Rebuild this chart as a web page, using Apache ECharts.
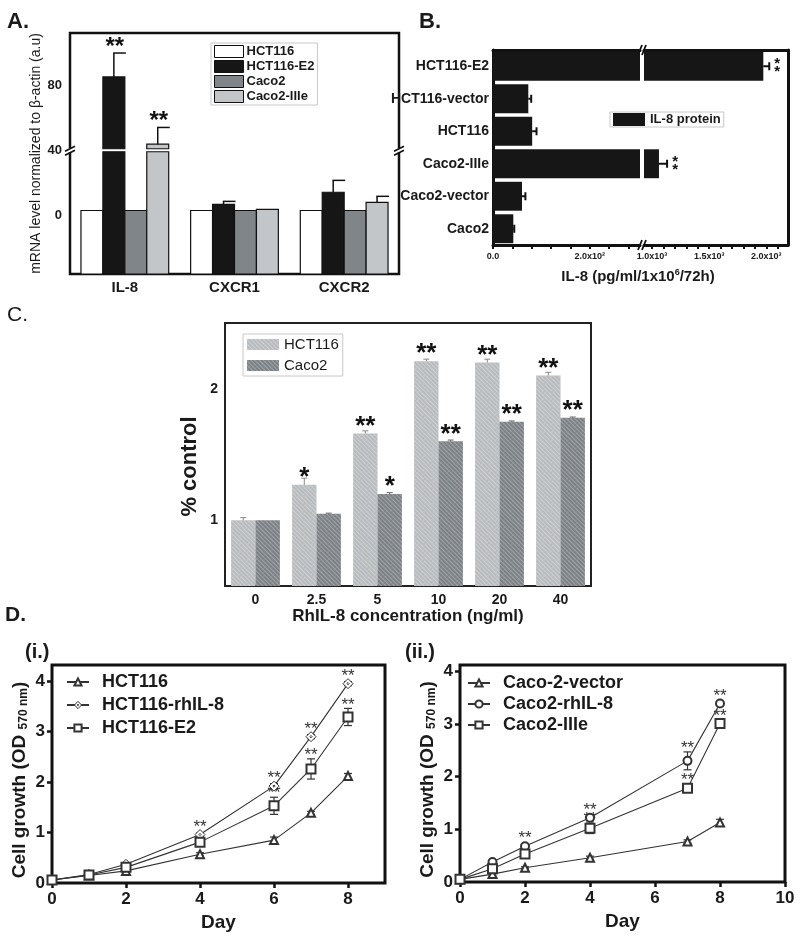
<!DOCTYPE html>
<html><head><meta charset="utf-8">
<script src="https://cdn.jsdelivr.net/npm/echarts@6/dist/echarts.min.js"></script>
<style>html,body{margin:0;padding:0;background:#fff}#c{width:800px;height:936px}</style>
</head><body><div id="c"></div>
<script>
// ---------------- Panel A data ----------------
const aCategories = ['IL-8', 'CXCR1', 'CXCR2'];
const aNames = ['HCT116', 'HCT116-E2', 'Caco2', 'Caco2-IIIe'];
const aHCT116 = [3, 3, 3];
const aHCT116E2 = [85, 6.8, 14.2];
const aCaco2 = [3, 3, 3];
const aCaco2IIIe = [43.7, 3.7, 8];
const aErrHCT116 = [0, 0, 0];
const aErrHCT116E2 = [14.7, 1.8, 7.3];
const aErrCaco2 = [0, 0, 0];
const aErrCaco2IIIe = [10.3, 0, 3.7];
const aStarsHCT116 = ['', '', ''];
const aStarsHCT116E2 = ['**', '', ''];
const aStarsCaco2 = ['', '', ''];
const aStarsCaco2IIIe = ['**', '', ''];
const aLabelValues = [0, 40, 80];
const aTickValues = [0, 40, 60, 80, 100];
const aBreakValue = 40;

// ---------------- Panel B data ----------------
const bCategories = ['Caco2', 'Caco2-vector', 'Caco2-IIIe', 'HCT116', 'HCT116-vector', 'HCT116-E2'];
const bValues = [42, 60, 1061, 81, 73, 1974];
const bErrors = [2, 7, 71, 9, 6, 52];
const bStars = ['', '', '**', '', '', '**'];
const bTickValuesLow = [0, 40, 80, 120, 160, 200, 240, 280];
const bLabelValuesLow = [0, 200];
const bLabelTextLow = ['0.0', '2.0x10²'];
const bTickValuesHigh = [1000, 1100, 1200, 1300, 1400, 1500, 1600, 1700, 1800, 1900, 2000, 2100];
const bLabelValuesHigh = [1000, 1500, 2000];
const bLabelTextHigh = ['1.0x10³', '1.5x10³', '2.0x10³'];

// ---------------- Panel C data ----------------
const cCategories = ['0', '2.5', '5', '10', '20', '40'];
const cHCT116 = [1.00, 1.27, 1.66, 2.21, 2.20, 2.10];
const cCaco2 = [1.00, 1.05, 1.20, 1.60, 1.75, 1.78];
const cErrHCT116 = [0.02, 0.05, 0.02, 0.015, 0.025, 0.025];
const cErrCaco2 = [0, 0.004, 0.01, 0.01, 0.005, 0.005];
const cStarsHCT116 = ['', '*', '**', '**', '**', '**'];
const cStarsCaco2 = ['', '', '*', '**', '**', '**'];
const cLabelValues = [1, 2];
const cTickValues = [0.5, 1, 1.5, 2, 2.5];

// ---------------- Panel D(i) data ----------------
const d1Days = [0, 1, 2, 4, 6, 7, 8];
const d1HCT116 = [0.06, 0.15, 0.24, 0.57, 0.85, 1.39, 2.12];
const d1HCT116rh = [0.06, 0.17, 0.37, 0.96, 1.92, 2.90, 3.95];
const d1HCT116E2 = [0.06, 0.16, 0.31, 0.81, 1.53, 2.26, 3.29];
const d1ErrHCT116 = [0, 0.02, 0.02, 0.03, 0.06, 0.03, 0.05];
const d1ErrHCT116rh = [0, 0.02, 0.03, 0.03, 0.05, 0.04, 0.04];
const d1ErrHCT116E2 = [0, 0.02, 0.03, 0.03, 0.17, 0.2, 0.17];
const d1StarsHCT116 = ['', '', '', '', '', '', ''];
const d1StarsHCT116rh = ['', '', '', '**', '**', '**', '**'];
const d1StarsHCT116E2 = ['', '', '', '', '**', '**', '**'];
const d1XTicks = [0, 2, 4, 6, 8];
const yTicksD = [0, 1, 2, 3, 4];

// ---------------- Panel D(ii) data ----------------
const d2Days = [0, 1, 2, 4, 7, 8];
const d2Vector = [0.05, 0.15, 0.27, 0.46, 0.77, 1.13];
const d2rh = [0.05, 0.38, 0.68, 1.22, 2.30, 3.39];
const d2IIIe = [0.05, 0.25, 0.53, 1.02, 1.78, 3.01];
const d2ErrVector = [0, 0.02, 0.02, 0.03, 0.03, 0.06];
const d2Errrh = [0, 0.03, 0.03, 0.06, 0.17, 0.04];
const d2ErrIIIe = [0, 0.03, 0.03, 0.1, 0.05, 0.04];
const d2StarsVector = ['', '', '', '', '', ''];
const d2Starsrh = ['', '', '**', '**', '**', '**'];
const d2StarsIIIe = ['', '', '', '**', '**', '**'];
const d2XTicks = [0, 2, 4, 6, 8, 10];

// ---------------- helpers ----------------
const FONT = '"Liberation Sans", Arial, Helvetica, sans-serif';
const NARROW = '"Liberation Sans Narrow", "Arial Narrow", "Liberation Sans", sans-serif';
const INK = '#1a1a1a';
const G = {
  A: {left: 70, top: 33, width: 329, height: 241},
  B1: {left: 493, top: 50, width: 147, height: 195},
  B2: {left: 644, top: 50, width: 144, height: 195},
  C: {left: 225, top: 323, width: 366, height: 263},
  D1: {left: 52, top: 665, width: 333, height: 218},
  D2: {left: 460, top: 665, width: 325, height: 217}
};
const disp = n => n.split('|')[1];

function aBar(k, values, errs, stars, fill) {
  return {
    type: 'custom', name: 'A|' + aNames[k], xAxisIndex: 0, yAxisIndex: 0,
    itemStyle: {color: fill, borderColor: '#111', borderWidth: 1},
    data: values.map((v, i) => [i, v]),
    encode: {x: 0, y: 1},
    renderItem: function (params, api) {
      const i = api.value(0), v = api.value(1);
      const cs = params.coordSys;
      const catW = api.size([1, 0])[0];
      const groupW = catW * 0.8, bw = groupW / 4;
      const c = api.coord([i, v]);
      const x0 = c[0] - groupW / 2 + k * bw;
      const yBot = cs.y + cs.height;
      const yBreak = api.coord([i, aBreakValue])[1];
      const st = {fill: fill, stroke: '#111', lineWidth: 1.2};
      const ch = [];
      if (v > aBreakValue) {
        ch.push({type: 'rect', shape: {x: x0, y: yBreak + 1.5, width: bw, height: yBot - yBreak - 1.5}, style: st});
        ch.push({type: 'rect', shape: {x: x0, y: c[1], width: bw, height: yBreak - 1.5 - c[1]}, style: st});
      } else {
        ch.push({type: 'rect', shape: {x: x0, y: c[1], width: bw, height: yBot - c[1]}, style: st});
      }
      const e = errs[params.dataIndex];
      const xc = x0 + bw / 2;
      let top = c[1];
      if (e > 0) {
        top = api.coord([i, v + e])[1];
        ch.push({type: 'line', shape: {x1: xc, y1: c[1], x2: xc, y2: top}, style: {stroke: '#111', lineWidth: 1.5}});
        ch.push({type: 'line', shape: {x1: xc - 0.7, y1: top, x2: xc + 12, y2: top}, style: {stroke: '#111', lineWidth: 1.5}});
      }
      const s = stars[params.dataIndex];
      if (s) ch.push({type: 'text', x: xc + 1, y: top + 6, style: {text: s, fill: '#111', font: 'bold 24px ' + FONT, align: 'center', verticalAlign: 'bottom'}});
      return {type: 'group', children: ch};
    }
  };
}

function cErr(k, values, errs, color) {
  return {
    type: 'custom', xAxisIndex: 5, yAxisIndex: 3, z: 5, silent: true,
    data: values.map((v, i) => [i, v]), encode: {x: 0, y: 1},
    renderItem: function (params, api) {
      const i = api.value(0), v = api.value(1), e = errs[params.dataIndex];
      if (!(e > 0)) return;
      const catW = api.size([1, 0])[0];
      const bw = catW * 0.8 / 2;
      const c = api.coord([i, v]);
      const xc = c[0] + (k === 0 ? -bw / 2 : bw / 2);
      const t = api.coord([i, v + e])[1];
      return {type: 'group', children: [
        {type: 'line', shape: {x1: xc, y1: c[1], x2: xc, y2: t}, style: {stroke: color, lineWidth: 1}},
        {type: 'line', shape: {x1: xc - 3, y1: t, x2: xc + 3, y2: t}, style: {stroke: color, lineWidth: 1}}
      ]};
    }
  };
}

function dErr(xi, yi, days, values, errs, stars) {
  return {
    type: 'custom', xAxisIndex: xi, yAxisIndex: yi, z: 1, silent: true,
    data: days.map((d, i) => [d, values[i]]), encode: {x: 0, y: 1},
    renderItem: function (params, api) {
      const x = api.value(0), v = api.value(1), e = errs[params.dataIndex];
      const c = api.coord([x, v]);
      const ch = [];
      let top = c[1];
      if (e > 0) {
        top = api.coord([x, v + e])[1];
        const bot = api.coord([x, v - e])[1];
        ch.push({type: 'line', shape: {x1: c[0], y1: top, x2: c[0], y2: bot}, style: {stroke: '#333', lineWidth: 1.2}});
        ch.push({type: 'line', shape: {x1: c[0] - 4, y1: top, x2: c[0] + 4, y2: top}, style: {stroke: '#333', lineWidth: 1.2}});
        ch.push({type: 'line', shape: {x1: c[0] - 4, y1: bot, x2: c[0] + 4, y2: bot}, style: {stroke: '#333', lineWidth: 1.2}});
      }
      const s = stars[params.dataIndex];
      if (s) ch.push({type: 'text', x: c[0], y: Math.min(top, c[1] - 4) + 5, z2: 10, style: {text: s, fill: '#333', font: '17px ' + FONT, align: 'center', verticalAlign: 'bottom'}});
      return {type: 'group', children: ch};
    }
  };
}

function bErr(xi, yi) {
  return {
    type: 'custom', xAxisIndex: xi, yAxisIndex: yi, clip: true, silent: true,
    data: bValues.map((v, i) => [v, i]), encode: {x: 0, y: 1},
    renderItem: function (params, api) {
      const v = api.value(0), i = api.value(1), e = bErrors[params.dataIndex];
      const c = api.coord([v, i]);
      const r = api.coord([v + e, i]);
      const ch = [
        {type: 'line', shape: {x1: c[0], y1: c[1], x2: r[0], y2: r[1]}, style: {stroke: '#111', lineWidth: 2}},
        {type: 'line', shape: {x1: r[0], y1: r[1] - 4, x2: r[0], y2: r[1] + 4}, style: {stroke: '#111', lineWidth: 2}}
      ];
      const s = bStars[params.dataIndex];
      if (s) ch.push({type: 'text', x: r[0] + 8, y: r[1] + 2, style: {text: '*\n*', fill: '#111', font: 'bold 15px ' + FONT, lineHeight: 8, align: 'center', verticalAlign: 'middle'}});
      return {type: 'group', children: ch};
    }
  };
}

const diamondDot = 'path://M0,-6L6,0L0,6L-6,0Z M0,-1.4L1.4,0L0,1.4L-1.4,0Z';
const openStyle = {color: '#fff', borderColor: '#333', borderWidth: 1};
function dLine(name, xi, yi, days, values, symbol, size) {
  const isPath = symbol.indexOf('path://') === 0;
  return {
    type: 'line', name: name, xAxisIndex: xi, yAxisIndex: yi, z: 3,
    data: days.map((d, i) => [d, values[i]]),
    symbol: symbol, symbolSize: size, showAllSymbol: true,
    lineStyle: {color: '#333', width: 1.1},
    itemStyle: isPath ? openStyle : {color: '#333', borderWidth: 1}
  };
}

const hatchDecal = {symbol: 'rect', symbolSize: 1, dashArrayX: [1, 0], dashArrayY: [1, 2], rotation: Math.PI / 4, color: 'rgba(255,255,255,0.28)'};

const chart = echarts.init(document.getElementById('c'));
const option = {
  animation: false,
  backgroundColor: '#fff',
  textStyle: {fontFamily: FONT},
  grid: [
    Object.assign({show: true, borderColor: '#111', borderWidth: 2.5, backgroundColor: 'transparent'}, G.A),
    G.B1, G.B2,
    Object.assign({show: true, borderColor: '#222', borderWidth: 2, backgroundColor: 'transparent'}, G.C),
    Object.assign({show: true, borderColor: '#111', borderWidth: 3, backgroundColor: 'transparent'}, G.D1),
    Object.assign({show: true, borderColor: '#111', borderWidth: 3, backgroundColor: 'transparent'}, G.D2)
  ],
  xAxis: [
    {gridIndex: 0, type: 'category', data: aCategories, axisLine: {show: false},
      axisTick: {alignWithLabel: true, length: 6, lineStyle: {color: '#111', width: 2}},
      axisLabel: {color: INK, fontWeight: 'bold', fontSize: 15, margin: 6, fontFamily: FONT}},
    {gridIndex: 1, type: 'value', position: 'bottom', min: 0, max: 304,
      axisLine: {show: true, lineStyle: {color: '#111', width: 3}},
      axisTick: {show: true, length: 4, customValues: bTickValuesLow, lineStyle: {color: '#111', width: 2}},
      axisLabel: {customValues: bLabelValuesLow, formatter: v => bLabelTextLow[bLabelValuesLow.indexOf(v)], color: INK, fontWeight: 'bold', fontSize: 9, margin: 7, fontFamily: FONT},
      splitLine: {show: false}},
    {gridIndex: 1, type: 'value', position: 'top', min: 0, max: 304,
      axisLine: {show: true, lineStyle: {color: '#111', width: 3}}, axisTick: {show: false}, axisLabel: {show: false}, splitLine: {show: false}},
    {gridIndex: 2, type: 'value', position: 'bottom', min: 930, max: 2190,
      axisLine: {show: true, lineStyle: {color: '#111', width: 3}},
      axisTick: {show: true, length: 4, customValues: bTickValuesHigh, lineStyle: {color: '#111', width: 2}},
      axisLabel: {customValues: bLabelValuesHigh, formatter: v => bLabelTextHigh[bLabelValuesHigh.indexOf(v)], color: INK, fontWeight: 'bold', fontSize: 9, margin: 7, fontFamily: FONT},
      splitLine: {show: false}},
    {gridIndex: 2, type: 'value', position: 'top', min: 930, max: 2190,
      axisLine: {show: true, lineStyle: {color: '#111', width: 3}}, axisTick: {show: false}, axisLabel: {show: false}, splitLine: {show: false}},
    {gridIndex: 3, type: 'category', data: cCategories, position: 'bottom', axisLine: {show: false},
      axisTick: {alignWithLabel: false, length: 4, lineStyle: {color: '#222', width: 1.5}},
      axisLabel: {color: INK, fontSize: 14, margin: 7, fontFamily: NARROW, fontWeight: 'bold'},
      name: 'RhIL-8 concentration (ng/ml)', nameLocation: 'middle', nameGap: 20,
      nameTextStyle: {color: INK, fontSize: 17, fontFamily: NARROW, fontWeight: 'bold'}},
    {gridIndex: 3, type: 'category', data: cCategories, position: 'bottom', axisLine: {show: false},
      axisTick: {alignWithLabel: true, length: 4, lineStyle: {color: '#222', width: 1.5}}, axisLabel: {show: false}},
    {gridIndex: 4, type: 'value', min: 0, max: 9, axisLine: {show: false},
      axisTick: {customValues: d1XTicks, length: 5, lineStyle: {color: '#111', width: 2.5}},
      axisLabel: {customValues: d1XTicks, color: INK, fontWeight: 'bold', fontSize: 17, margin: 8, fontFamily: FONT},
      splitLine: {show: false}, name: 'Day', nameLocation: 'middle', nameGap: 30,
      nameTextStyle: {color: INK, fontWeight: 'bold', fontSize: 19, fontFamily: FONT}},
    {gridIndex: 5, type: 'value', min: 0, max: 10, axisLine: {show: false},
      axisTick: {customValues: d2XTicks, length: 5, lineStyle: {color: '#111', width: 2.5}},
      axisLabel: {customValues: d2XTicks, color: INK, fontWeight: 'bold', fontSize: 17, margin: 8, fontFamily: FONT},
      splitLine: {show: false}, name: 'Day', nameLocation: 'middle', nameGap: 30,
      nameTextStyle: {color: INK, fontWeight: 'bold', fontSize: 19, fontFamily: FONT}}
  ],
  yAxis: [
    {gridIndex: 0, type: 'value', min: -36, max: 112, axisLine: {show: false}, splitLine: {show: false},
      axisTick: {customValues: aTickValues, length: 5, lineStyle: {color: '#111', width: 2}},
      axisLabel: {customValues: aLabelValues, color: INK, fontWeight: 'bold', fontSize: 13, margin: 8, fontFamily: FONT},
      name: 'mRNA level normalized to β-actin (a.u)', nameLocation: 'middle', nameGap: 24,
      nameTextStyle: {color: INK, fontSize: 14, fontFamily: FONT}},
    {gridIndex: 1, type: 'category', data: bCategories, position: 'left',
      axisLine: {show: true, lineStyle: {color: '#111', width: 3}}, axisTick: {show: false},
      axisLabel: {color: INK, fontWeight: 'bold', fontSize: 14, margin: 4, fontFamily: FONT}},
    {gridIndex: 2, type: 'category', data: bCategories, position: 'right',
      axisLine: {show: true, lineStyle: {color: '#111', width: 3}}, axisTick: {show: false}, axisLabel: {show: false}},
    {gridIndex: 3, type: 'value', min: 0.5, max: 2.5, axisLine: {show: false}, splitLine: {show: false},
      axisTick: {customValues: cTickValues, length: 4, lineStyle: {color: '#222', width: 1.5}},
      axisLabel: {customValues: cLabelValues, color: INK, fontSize: 14, fontWeight: 'bold', margin: 7, fontFamily: NARROW},
      name: '% control', nameLocation: 'middle', nameGap: 24,
      nameTextStyle: {color: INK, fontSize: 22, fontWeight: 'bold', fontFamily: FONT, padding: [0, 24, 0, 0]}},
    {gridIndex: 4, type: 'value', min: 0, max: 4.32, axisLine: {show: false}, splitLine: {show: false},
      axisTick: {customValues: yTicksD, length: 5, lineStyle: {color: '#111', width: 2.5}},
      axisLabel: {customValues: yTicksD, color: INK, fontWeight: 'bold', fontSize: 17, margin: 7, fontFamily: FONT},
      name: 'Cell growth (OD {s|570 nm})', nameLocation: 'middle', nameGap: 22,
      nameTextStyle: {color: INK, fontWeight: 'bold', fontSize: 19, fontFamily: FONT, padding: [0, 12, 0, 0],
        rich: {s: {fontSize: 12, fontWeight: 'bold', fontFamily: FONT, color: INK, padding: [8, 0, 0, 0]}}}},
    {gridIndex: 5, type: 'value', min: 0, max: 4.12, axisLine: {show: false}, splitLine: {show: false},
      axisTick: {customValues: yTicksD, length: 5, lineStyle: {color: '#111', width: 2.5}},
      axisLabel: {customValues: yTicksD, color: INK, fontWeight: 'bold', fontSize: 17, margin: 7, fontFamily: FONT},
      name: 'Cell growth (OD {s|570 nm})', nameLocation: 'middle', nameGap: 22,
      nameTextStyle: {color: INK, fontWeight: 'bold', fontSize: 19, fontFamily: FONT, padding: [0, 12, 0, 0],
        rich: {s: {fontSize: 12, fontWeight: 'bold', fontFamily: FONT, color: INK, padding: [8, 0, 0, 0]}}}}
  ],
  legend: [
    {selectedMode: false, orient: 'vertical', left: 211, top: 43, padding: [2, 3], itemGap: 2,
      itemWidth: 29, itemHeight: 12, borderColor: '#c8c8c8', borderWidth: 1, formatter: disp,
      textStyle: {color: INK, fontWeight: 'bold', fontSize: 13, fontFamily: FONT, padding: [0, 0, 0, -2]},
      data: [
        {name: 'A|HCT116', icon: 'rect', itemStyle: {color: '#fff', borderColor: '#111', borderWidth: 1}},
        {name: 'A|HCT116-E2', icon: 'rect', itemStyle: {color: '#161616', borderColor: '#111', borderWidth: 1}},
        {name: 'A|Caco2', icon: 'rect', itemStyle: {color: '#80858a', borderColor: '#111', borderWidth: 1}},
        {name: 'A|Caco2-IIIe', icon: 'rect', itemStyle: {color: '#c3c6c9', borderColor: '#111', borderWidth: 1}}
      ]},
    {selectedMode: false, left: 610, top: 112, padding: [1, 3], itemWidth: 32, itemHeight: 13,
      borderColor: '#c8c8c8', borderWidth: 1, formatter: disp,
      textStyle: {color: INK, fontWeight: 'bold', fontSize: 13, fontFamily: FONT},
      data: [{name: 'B|IL-8 protein', icon: 'rect'}]},
    {selectedMode: false, orient: 'vertical', left: 243, top: 334, padding: [3, 4], itemGap: 6,
      itemWidth: 32, itemHeight: 11, borderColor: '#c8c8c8', borderWidth: 1, formatter: disp,
      textStyle: {color: INK, fontSize: 15, fontFamily: NARROW},
      data: [{name: 'C|HCT116', icon: 'rect'}, {name: 'C|Caco2', icon: 'rect'}]},
    {selectedMode: false, orient: 'vertical', left: 66, top: 673, padding: 0, itemGap: 5, itemWidth: 22, itemHeight: 9,
      formatter: disp, textStyle: {color: INK, fontWeight: 'bold', fontSize: 18, fontFamily: FONT, padding: [0, 0, 0, 8]},
      data: ['D1|HCT116', {name: 'D1|HCT116-rhIL-8', itemStyle: openStyle}, 'D1|HCT116-E2']},
    {selectedMode: false, orient: 'vertical', left: 467, top: 674, padding: 0, itemGap: 3, itemWidth: 22, itemHeight: 9,
      formatter: disp, textStyle: {color: INK, fontWeight: 'bold', fontSize: 18, fontFamily: FONT, padding: [0, 0, 0, 8]},
      data: ['D2|Caco-2-vector', 'D2|Caco2-rhIL-8', 'D2|Caco2-IIIe']}
  ],
  series: [
    aBar(0, aHCT116, aErrHCT116, aStarsHCT116, '#ffffff'),
    aBar(1, aHCT116E2, aErrHCT116E2, aStarsHCT116E2, '#161616'),
    aBar(2, aCaco2, aErrCaco2, aStarsCaco2, '#80858a'),
    aBar(3, aCaco2IIIe, aErrCaco2IIIe, aStarsCaco2IIIe, '#c3c6c9'),

    {type: 'bar', name: 'B|IL-8 protein', xAxisIndex: 1, yAxisIndex: 1, data: bValues, barCategoryGap: '11%',
      itemStyle: {color: '#161616'}, clip: true},
    {type: 'bar', name: 'B|IL-8 protein', xAxisIndex: 3, yAxisIndex: 2, data: bValues, barCategoryGap: '11%',
      itemStyle: {color: '#161616'}, clip: true},
    bErr(1, 1), bErr(3, 2),

    {type: 'bar', name: 'C|HCT116', xAxisIndex: 5, yAxisIndex: 3, data: cHCT116, barGap: '0%', barCategoryGap: '20%',
      itemStyle: {color: '#b9bcbf', decal: hatchDecal},
      label: {show: true, position: 'top', distance: -6, formatter: p => cStarsHCT116[p.dataIndex], color: '#111', fontSize: 26, fontWeight: 'bold', fontFamily: FONT}},
    {type: 'bar', name: 'C|Caco2', xAxisIndex: 5, yAxisIndex: 3, data: cCaco2, barGap: '0%', barCategoryGap: '20%',
      itemStyle: {color: '#7c8186', decal: hatchDecal},
      label: {show: true, position: 'top', distance: -6, formatter: p => cStarsCaco2[p.dataIndex], color: '#111', fontSize: 26, fontWeight: 'bold', fontFamily: FONT}},
    cErr(0, cHCT116, cErrHCT116, '#888'),
    cErr(1, cCaco2, cErrCaco2, '#666'),

    dErr(7, 4, d1Days, d1HCT116, d1ErrHCT116, d1StarsHCT116),
    dErr(7, 4, d1Days, d1HCT116rh, d1ErrHCT116rh, d1StarsHCT116rh),
    dErr(7, 4, d1Days, d1HCT116E2, d1ErrHCT116E2, d1StarsHCT116E2),
    dLine('D1|HCT116', 7, 4, d1Days, d1HCT116, 'emptyTriangle', 8),
    dLine('D1|HCT116-rhIL-8', 7, 4, d1Days, d1HCT116rh, diamondDot, 10),
    dLine('D1|HCT116-E2', 7, 4, d1Days, d1HCT116E2, 'emptyRect', 9),

    dErr(8, 5, d2Days, d2Vector, d2ErrVector, d2StarsVector),
    dErr(8, 5, d2Days, d2rh, d2Errrh, d2Starsrh),
    dErr(8, 5, d2Days, d2IIIe, d2ErrIIIe, d2StarsIIIe),
    dLine('D2|Caco-2-vector', 8, 5, d2Days, d2Vector, 'emptyTriangle', 8),
    dLine('D2|Caco2-rhIL-8', 8, 5, d2Days, d2rh, 'emptyCircle', 8),
    dLine('D2|Caco2-IIIe', 8, 5, d2Days, d2IIIe, 'emptyRect', 9)
  ]
};
chart.setOption(option);

// decorations: panel letters, shared titles, axis-break marks
const yBreakA = chart.convertToPixel({yAxisIndex: 0}, aBreakValue);
function breakMark(x, y, vertical) {
  const els = [];
  if (vertical) {
    els.push({type: 'rect', shape: {x: x - 3, y: y - 2, width: 6, height: 4}, style: {fill: '#fff'}, z: 100});
    els.push({type: 'line', shape: {x1: x - 5, y1: y + 1, x2: x + 5, y2: y - 4}, style: {stroke: '#111', lineWidth: 1.6}, z: 101});
    els.push({type: 'line', shape: {x1: x - 5, y1: y + 5, x2: x + 5, y2: y}, style: {stroke: '#111', lineWidth: 1.6}, z: 101});
  } else {
    els.push({type: 'line', shape: {x1: x - 4, y1: y + 5, x2: x, y2: y - 5}, style: {stroke: '#111', lineWidth: 1.8}, z: 101});
    els.push({type: 'line', shape: {x1: x, y1: y + 5, x2: x + 4, y2: y - 5}, style: {stroke: '#111', lineWidth: 1.8}, z: 101});
  }
  return els;
}
const bGapX = (G.B1.left + G.B1.width + G.B2.left) / 2;
const gfx = [
  {type: 'text', x: 7, y: 11, style: {text: 'A.', font: 'bold 22px ' + FONT, fill: INK}},
  {type: 'text', x: 419, y: 11, style: {text: 'B.', font: 'bold 22px ' + FONT, fill: INK}},
  {type: 'text', x: 7, y: 305, style: {text: 'C.', font: '21px ' + NARROW, fill: INK}},
  {type: 'text', x: 5, y: 605, style: {text: 'D.', font: 'bold 21px ' + FONT, fill: INK}},
  {type: 'text', x: 25, y: 642, style: {text: '(i.)', font: 'bold 20px ' + FONT, fill: INK}},
  {type: 'text', x: 405, y: 642, style: {text: '(ii.)', font: 'bold 20px ' + FONT, fill: INK}},
  {type: 'text', x: 638, y: 277, style: {
    text: '{n|IL-8 (pg/ml/1x10}{s|6}{n|/72h)}', align: 'center', verticalAlign: 'middle',
    rich: {n: {font: 'bold 15px ' + FONT, fill: INK, lineHeight: 18},
           s: {font: 'bold 9px ' + FONT, fill: INK, lineHeight: 18, verticalAlign: 'top', padding: [0, 0, 8, 0]}}}}
].concat(
  breakMark(G.A.left, yBreakA, true),
  breakMark(G.A.left + G.A.width, yBreakA, true),
  breakMark(bGapX, G.B1.top, false),
  breakMark(bGapX, G.B1.top + G.B1.height, false)
);
chart.setOption({graphic: gfx});
</script></body></html>
